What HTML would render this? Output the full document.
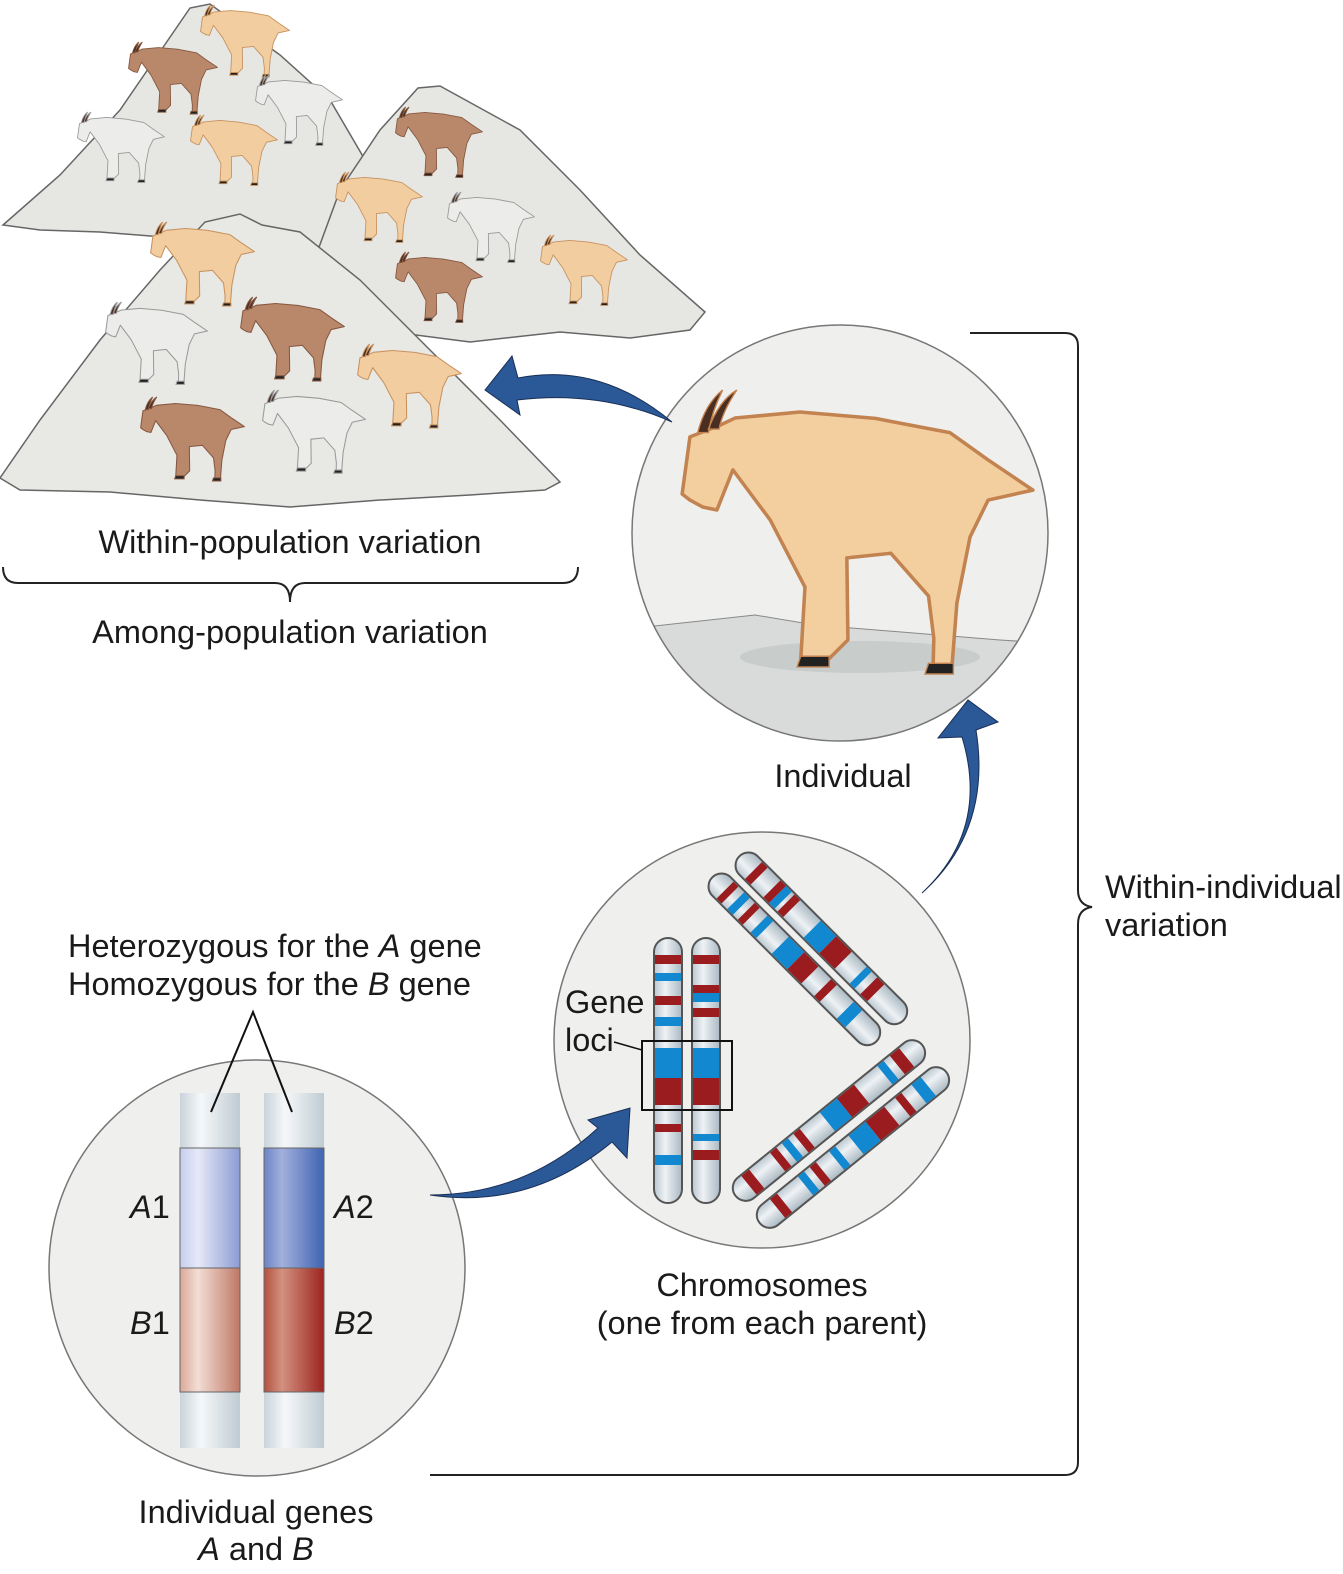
<!DOCTYPE html>
<html><head><meta charset="utf-8"><style>
html,body{margin:0;padding:0;background:#fff}
svg{display:block}
text{font-family:"Liberation Sans",sans-serif;fill:#1a1a1a}
</style></head><body>
<svg width="1343" height="1574" viewBox="0 0 1343 1574" xmlns="http://www.w3.org/2000/svg">
<defs>
<g id="goat">
<path d="M0.6,29.3 L2.8,13.2 L11.3,9.9 L15.5,7.9 L33.8,6.2 L55,8 L76,12 L86.8,19.7 L99.4,28.2 L86.8,31 L81.7,41.4 L78,60 L76.6,78 L71.3,78 L71.5,70 L70,58 L59.4,46 L47,47.3 L47.3,70.4 L41.7,76 L34,76.2 L35.2,55.5 L25.4,36.6 L14.9,22.5 L10.4,33.8 L6.5,33 L2.8,31 Z" stroke-width="1" stroke-linejoin="round"/>
<path d="M5,12 Q7,4 12,0 Q9,6 8,12 Z M8,11 Q11,3 16,0 Q12,6 11,11 Z" fill="#4a2e22"/>
<path d="M34,75 L42,75 L42,78 L33,78 Z M70,77 L77,77 L77,80 L69,80 Z" fill="#222"/>
</g>
<linearGradient id="tube" x1="0" x2="1"><stop offset="0" stop-color="#c9d3da"/><stop offset="0.35" stop-color="#f5f8fa"/><stop offset="1" stop-color="#bfcbd3"/></linearGradient>
<linearGradient id="a1" x1="0" x2="1"><stop offset="0" stop-color="#c6cdee"/><stop offset="0.3" stop-color="#e6e9f8"/><stop offset="1" stop-color="#8c9bd3"/></linearGradient>
<linearGradient id="a2" x1="0" x2="1"><stop offset="0" stop-color="#6b83c6"/><stop offset="0.3" stop-color="#a2b0dc"/><stop offset="1" stop-color="#3f63b2"/></linearGradient>
<linearGradient id="b1" x1="0" x2="1"><stop offset="0" stop-color="#dba898"/><stop offset="0.3" stop-color="#f3ddd5"/><stop offset="1" stop-color="#bf7865"/></linearGradient>
<linearGradient id="b2" x1="0" x2="1"><stop offset="0" stop-color="#b4503f"/><stop offset="0.3" stop-color="#d3917f"/><stop offset="1" stop-color="#9c2420"/></linearGradient>
<linearGradient id="chr" x1="0" x2="1"><stop offset="0" stop-color="#b9c6cf"/><stop offset="0.4" stop-color="#eef2f5"/><stop offset="1" stop-color="#aab8c2"/></linearGradient>
</defs>

<path d="M3,225 L60,175 L120,110 L190,8 L210,4 L280,55 L330,100 L368,165 L372,250 L300,245 L200,240 L100,232 L40,230 Z" fill="#e6e6e3" stroke="#666" stroke-width="1.5"/>
<path d="M296,310 L340,190 L380,130 L418,88 L440,86 L520,130 L580,190 L640,255 L705,312 L690,330 L630,338 L560,332 L470,342 L300,320 Z" fill="#e6e6e3" stroke="#666" stroke-width="1.5"/>
<path d="M0,478 L40,420 L100,340 L160,270 L205,222 L240,214 L262,225 L300,232 L360,280 L430,350 L500,420 L560,482 L545,490 L470,495 L380,500 L290,507 L200,500 L110,492 L20,490 Z" fill="#e8e8e5" stroke="#666" stroke-width="1.5"/>

<use href="#goat" transform="translate(200,5) scale(0.9)" fill="#f2cda0" stroke="#c8925e"/>
<use href="#goat" transform="translate(128,42) scale(0.9)" fill="#b98769" stroke="#865840"/>
<use href="#goat" transform="translate(255,75) scale(0.88)" fill="#ececea" stroke="#999"/>
<use href="#goat" transform="translate(77,112) scale(0.88)" fill="#ececea" stroke="#999"/>
<use href="#goat" transform="translate(190,115) scale(0.88)" fill="#f2cda0" stroke="#c8925e"/>
<use href="#goat" transform="translate(395,107) scale(0.88)" fill="#b98769" stroke="#865840"/>
<use href="#goat" transform="translate(335,172) scale(0.88)" fill="#f2cda0" stroke="#c8925e"/>
<use href="#goat" transform="translate(447,192) scale(0.88)" fill="#ececea" stroke="#999"/>
<use href="#goat" transform="translate(540,235) scale(0.88)" fill="#f2cda0" stroke="#c8925e"/>
<use href="#goat" transform="translate(395,252) scale(0.88)" fill="#b98769" stroke="#865840"/>
<use href="#goat" transform="translate(150,222) scale(1.05)" fill="#f2cda0" stroke="#c8925e"/>
<use href="#goat" transform="translate(105,302) scale(1.03)" fill="#ececea" stroke="#999"/>
<use href="#goat" transform="translate(240,297) scale(1.05)" fill="#b98769" stroke="#865840"/>
<use href="#goat" transform="translate(357,344) scale(1.05)" fill="#f2cda0" stroke="#c8925e"/>
<use href="#goat" transform="translate(140,397) scale(1.05)" fill="#b98769" stroke="#865840"/>
<use href="#goat" transform="translate(262,390) scale(1.04)" fill="#ececea" stroke="#999"/>

<text x="290" y="553" font-size="32.5" text-anchor="middle">Within-population variation</text>
<path d="M3,567 Q3,583 18,583 L275,583 Q290,583 290,602 Q290,583 305,583 L563,583 Q578,583 578,567" fill="none" stroke="#222" stroke-width="2"/>
<text x="290" y="643" font-size="32.5" text-anchor="middle">Among-population variation</text>

<clipPath id="c1"><circle cx="840" cy="533" r="208"/></clipPath>
<circle cx="840" cy="533" r="208" fill="#eff0ee"/>
<path d="M600,632 L755,615 L815,625 L1000,640 L1080,645 L1080,760 L600,760 Z" fill="#d8dbd9" stroke="#888" stroke-width="1" clip-path="url(#c1)"/>
<ellipse cx="860" cy="657" rx="120" ry="16" fill="#c8ccca" clip-path="url(#c1)"/>
<circle cx="840" cy="533" r="208" fill="none" stroke="#777" stroke-width="1.5"/>
<use href="#goat" transform="translate(680,390) scale(3.55)" fill="#f3cfa0" stroke="#c28350" stroke-width="0.4"/>
<text x="843" y="787" font-size="32.5" text-anchor="middle">Individual</text>

<path d="M970,333 L1065,333 Q1078,333 1078,346 L1078,890 Q1078,905 1092,907 Q1078,909 1078,924 L1078,1462 Q1078,1475 1065,1475 L430,1475" fill="none" stroke="#222" stroke-width="2"/>
<text x="1105" y="898" font-size="32.5">Within-individual</text>
<text x="1105" y="936" font-size="32.5">variation</text>

<circle cx="762" cy="1040" r="208" fill="#eff0ee" stroke="#777" stroke-width="1.5"/>
<g stroke="#555" stroke-width="2">
<rect x="654" y="938" width="28" height="265" rx="14" fill="url(#chr)"/>
<rect x="692" y="938" width="28" height="265" rx="14" fill="url(#chr)"/>
</g>
<g>
<rect x="655" y="955" width="26" height="9" fill="#9a1c1f"/><rect x="655" y="973" width="26" height="8" fill="#1188d0"/><rect x="655" y="996" width="26" height="9" fill="#9a1c1f"/><rect x="655" y="1017" width="26" height="9" fill="#1188d0"/><rect x="655" y="1048" width="26" height="30" fill="#1188d0"/><rect x="655" y="1078" width="26" height="27" fill="#9a1c1f"/><rect x="655" y="1124" width="26" height="8" fill="#9a1c1f"/><rect x="655" y="1155" width="26" height="10" fill="#1188d0"/>
<rect x="693" y="955" width="26" height="9" fill="#9a1c1f"/><rect x="693" y="985" width="26" height="8" fill="#9a1c1f"/><rect x="693" y="993" width="26" height="9" fill="#1188d0"/><rect x="693" y="1008" width="26" height="9" fill="#9a1c1f"/><rect x="693" y="1048" width="26" height="30" fill="#1188d0"/><rect x="693" y="1078" width="26" height="27" fill="#9a1c1f"/><rect x="693" y="1134" width="26" height="7" fill="#1188d0"/><rect x="693" y="1150" width="26" height="10" fill="#9a1c1f"/>
</g>
<rect x="642" y="1041" width="90" height="69" fill="none" stroke="#111" stroke-width="2"/>
<path d="M614,1042 L642,1050" stroke="#111" stroke-width="1.5"/>
<text x="565" y="1013" font-size="32.5">Gene</text>
<text x="565" y="1051" font-size="32.5">loci</text>

<g transform="translate(718,883) rotate(-45)">
<rect x="-13" y="-8" width="26" height="232" rx="13" fill="url(#chr)" stroke="#555" stroke-width="2"/>
<rect x="-12" y="10" width="24" height="7" fill="#9a1c1f"/><rect x="-12" y="25" width="24" height="8" fill="#1188d0"/><rect x="-12" y="40" width="24" height="7" fill="#9a1c1f"/><rect x="-12" y="58" width="24" height="8" fill="#1188d0"/><rect x="-12" y="88" width="24" height="22" fill="#1188d0"/><rect x="-12" y="110" width="24" height="20" fill="#9a1c1f"/><rect x="-12" y="148" width="24" height="8" fill="#9a1c1f"/><rect x="-12" y="180" width="24" height="12" fill="#1188d0"/>
</g>
<g transform="translate(745,862) rotate(-45)">
<rect x="-13" y="-8" width="26" height="232" rx="13" fill="url(#chr)" stroke="#555" stroke-width="2"/>
<rect x="-12" y="12" width="24" height="8" fill="#9a1c1f"/><rect x="-12" y="38" width="24" height="8" fill="#9a1c1f"/><rect x="-12" y="46" width="24" height="8" fill="#1188d0"/><rect x="-12" y="58" width="24" height="8" fill="#9a1c1f"/><rect x="-12" y="95" width="24" height="22" fill="#1188d0"/><rect x="-12" y="117" width="24" height="22" fill="#9a1c1f"/><rect x="-12" y="160" width="24" height="7" fill="#1188d0"/><rect x="-12" y="175" width="24" height="10" fill="#9a1c1f"/>
</g>
<g transform="translate(916,1050) rotate(51)">
<rect x="-13" y="-8" width="26" height="240" rx="13" fill="url(#chr)" stroke="#555" stroke-width="2"/>
<rect x="-12" y="12" width="24" height="12" fill="#9a1c1f"/><rect x="-12" y="32" width="24" height="8" fill="#1188d0"/><rect x="-12" y="70" width="24" height="22" fill="#9a1c1f"/><rect x="-12" y="92" width="24" height="22" fill="#1188d0"/><rect x="-12" y="140" width="24" height="8" fill="#9a1c1f"/><rect x="-12" y="155" width="24" height="8" fill="#1188d0"/><rect x="-12" y="170" width="24" height="8" fill="#9a1c1f"/><rect x="-12" y="205" width="24" height="10" fill="#9a1c1f"/>
</g>
<g transform="translate(940,1077) rotate(51)">
<rect x="-13" y="-8" width="26" height="240" rx="13" fill="url(#chr)" stroke="#555" stroke-width="2"/>
<rect x="-12" y="15" width="24" height="12" fill="#1188d0"/><rect x="-12" y="40" width="24" height="8" fill="#9a1c1f"/><rect x="-12" y="62" width="24" height="24" fill="#9a1c1f"/><rect x="-12" y="86" width="24" height="22" fill="#1188d0"/><rect x="-12" y="125" width="24" height="8" fill="#1188d0"/><rect x="-12" y="150" width="24" height="8" fill="#9a1c1f"/><rect x="-12" y="165" width="24" height="8" fill="#1188d0"/><rect x="-12" y="200" width="24" height="9" fill="#9a1c1f"/>
</g>
<text x="762" y="1296" font-size="32.5" text-anchor="middle">Chromosomes</text>
<text x="762" y="1334" font-size="32.5" text-anchor="middle">(one from each parent)</text>

<circle cx="257" cy="1268" r="208" fill="#eff0ee" stroke="#777" stroke-width="1.5"/>
<rect x="180" y="1093" width="60" height="355" fill="url(#tube)"/>
<rect x="264" y="1093" width="60" height="355" fill="url(#tube)"/>
<rect x="180" y="1148" width="60" height="120" fill="url(#a1)" stroke="#666" stroke-width="1"/>
<rect x="180" y="1268" width="60" height="124" fill="url(#b1)" stroke="#666" stroke-width="1"/>
<rect x="264" y="1148" width="60" height="120" fill="url(#a2)" stroke="#666" stroke-width="1"/>
<rect x="264" y="1268" width="60" height="124" fill="url(#b2)" stroke="#666" stroke-width="1"/>
<path d="M211,1112 L253,1012 L292,1112" fill="none" stroke="#111" stroke-width="2"/>
<text x="130" y="1218" font-size="32.5"><tspan font-style="italic">A</tspan>1</text>
<text x="130" y="1334" font-size="32.5"><tspan font-style="italic">B</tspan>1</text>
<text x="334" y="1218" font-size="32.5"><tspan font-style="italic">A</tspan>2</text>
<text x="334" y="1334" font-size="32.5"><tspan font-style="italic">B</tspan>2</text>
<text x="68" y="957" font-size="32.5">Heterozygous for the <tspan font-style="italic">A</tspan> gene</text>
<text x="68" y="995" font-size="32.5">Homozygous for the <tspan font-style="italic">B</tspan> gene</text>
<text x="256" y="1523" font-size="32.5" text-anchor="middle">Individual genes</text>
<text x="256" y="1560" font-size="32.5" text-anchor="middle"><tspan font-style="italic">A</tspan> and <tspan font-style="italic">B</tspan></text>

<path d="M672,422 Q600,362 518,378 L512,356 L485,390 L520,415 L517,400 Q600,390 672,422 Z" fill="#2b5897" stroke="#1a2f55" stroke-width="1"/>
<path d="M922,893 Q990,830 962,737 L938,738 L968,700 L998,722 L976,730 Q992,830 922,893 Z" fill="#2b5897" stroke="#1a2f55" stroke-width="1"/>
<path d="M430,1195 Q525,1195 598,1128 L588,1120 L630,1108 L627,1158 L612,1142 Q530,1210 430,1195 Z" fill="#2b5897" stroke="#1a2f55" stroke-width="1"/>
</svg>
</body></html>
